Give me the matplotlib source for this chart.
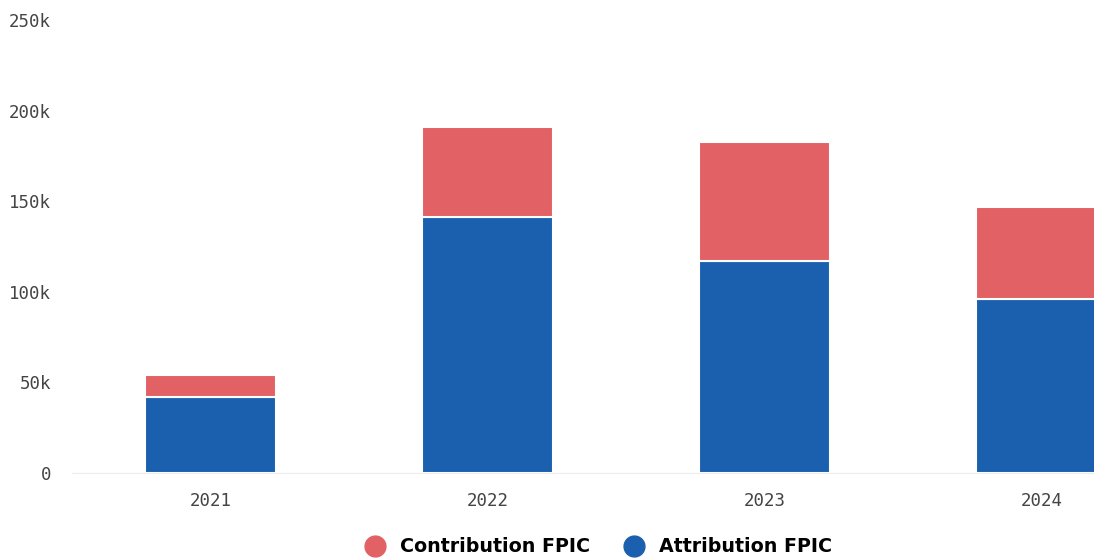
import matplotlib
matplotlib.use("Agg")
import matplotlib.pyplot as plt
from matplotlib.lines import Line2D

years = ["2021", "2022", "2023", "2024"]
attribution = [42000, 141500, 117000, 96000]
contribution = [12000, 49500, 65500, 51000]
series_names = ["Contribution FPIC", "Attribution FPIC"]
yticks = [0, 50000, 100000, 150000, 200000, 250000]
ytick_labels = ["0", "50k", "100k", "150k", "200k", "250k"]

blue = "#1a60ae"
red = "#e26164"

fig = plt.figure(figsize=(10.94, 5.58), dpi=100)
# axes deliberately extends past the right edge (last bar is cut off in the reference)
ax = fig.add_axes([72/1094, 1 - 473/558, 1108/1094, 453/558])

x = range(len(years))
ax.bar(x, attribution, width=0.475, color=blue, edgecolor="white", linewidth=1.5)
ax.bar(x, contribution, bottom=attribution, width=0.475, color=red, edgecolor="white", linewidth=1.5)

ax.set_xlim(-0.5, 3.5)
ax.set_ylim(0, 250000)
ax.set_yticks(yticks)
ax.set_yticklabels(ytick_labels)
ax.set_xticks(list(x))
ax.set_xticklabels(years)
for s in ["top", "right", "left"]:
    ax.spines[s].set_visible(False)
ax.spines["bottom"].set_color("#ececec")
ax.tick_params(axis="both", length=0, colors="#444444", labelsize=12.5)
ax.tick_params(axis="y", pad=15)
ax.tick_params(axis="x", pad=14)
for lbl in ax.get_yticklabels() + ax.get_xticklabels():
    lbl.set_family("DejaVu Sans Mono")

handles = [
    Line2D([], [], marker="o", linestyle="", markersize=15, color=red, label=series_names[0]),
    Line2D([], [], marker="o", linestyle="", markersize=15, color=blue, label=series_names[1]),
]
fig.legend(handles=handles, loc="center", bbox_to_anchor=(594/1094, 1 - 547/558), ncol=2,
           frameon=False, handletextpad=0.3, columnspacing=1.3,
           prop={"family": "DejaVu Sans", "weight": "bold", "size": 13.7})

fig.savefig("out.png", dpi=100)
